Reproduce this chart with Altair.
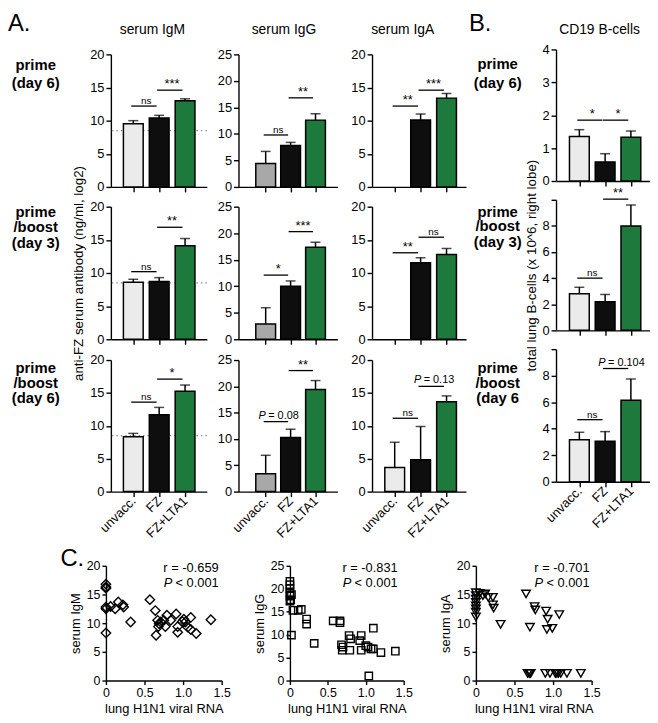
import altair as alt
import pandas as pd

FONT = "Liberation Sans"

# ---------------- data ----------------
GROUPS = ["unvacc.", "FZ", "FZ+LTA1"]

# rows: prime (day 6), prime/boost (day 3), prime/boost (day 6)
IGM_MEAN = [[9.55, 10.4, 13.0], [8.6, 8.7, 14.1], [8.35, 11.7, 15.25]]
IGM_UPPER = [[10.0, 10.8, 13.3], [9.05, 9.3, 15.2], [8.85, 12.8, 16.2]]
IGG_MEAN = [[4.4, 7.8, 12.6], [2.9, 10.0, 17.35], [3.4, 10.3, 19.4]]
IGG_UPPER = [[6.7, 8.4, 13.8], [5.95, 11.0, 18.3], [6.9, 11.85, 21.1]]
IGA_MEAN = [[None, 10.1, 13.4], [None, 11.55, 12.8], [3.65, 4.85, 13.65]]
IGA_UPPER = [[None, 11.0, 14.1], [None, 12.3, 13.7], [7.5, 9.9, 14.55]]
B_MEAN = [[1.35, 0.58, 1.33], [2.8, 2.2, 8.0], [3.17, 3.05, 6.15]]
B_UPPER = [[1.56, 0.83, 1.52], [3.3, 2.75, 9.6], [3.73, 3.78, 7.75]]
DETECTION_LIMIT = 8.5

# significance brackets: (from group, to group, height, label)
IGM_SIG = [[(0, 1, 12.2, "ns"), (1, 2, 14.6, "***")],
           [(0, 1, 10.2, "ns"), (1, 2, 16.9, "**")],
           [(0, 1, 13.6, "ns"), (1, 2, 17.1, "*")]]
IGG_SIG = [[(0, 1, 9.8, "ns"), (1, 2, 16.8, "**")],
           [(0, 1, 12.1, "*"), (1, 2, 20.3, "***")],
           [(0, 1, 13.3, "P = 0.08"), (1, 2, 23.0, "**")]]
IGA_SIG = [[(0, 1, 12.2, "**"), (1, 2, 14.6, "***")],
           [(0, 1, 13.05, "**"), (1, 2, 15.4, "ns")],
           [(0, 1, 11.15, "ns"), (1, 2, 16.0, "P = 0.13")]]
B_SIG = [[(0, 1, 1.85, "*"), (1, 2, 1.85, "*")],
         [(0, 1, 4.0, "ns"), (1, 2, 10.05, "**")],
         [(0, 1, 4.68, "ns"), (1, 2, 8.54, "P = 0.104")]]

A_ROW_LABELS = [["prime", "(day 6)"], ["prime", "/boost", "(day 3)"], ["prime", "/boost", "(day 6)"]]
B_ROW_LABELS = [["prime", "(day 6)"], ["prime", "/boost", "(day 3)"], ["prime", "/boost", "(day 6"]]
COL_TITLES = ["serum IgM", "serum IgG", "serum IgA", "CD19 B-cells"]
A_YTITLE = "anti-FZ serum antibody (ng/ml, log2)"
B_YTITLE = "total lung B-cells (x 10^6, right lobe)"

# Panel C scatter data (lung H1N1 viral RNA vs serum antibody)
SC_IGM_X = [0, 0, 0, 0, 0, 0, 0.06, 0.12, 0.16, 0.22, 0.23, 0.32, 0.57, 0.64, 0.65, 0.67, 0.69,
            0.68, 0.71, 0.75, 0.77, 0.79, 0.84, 0.91, 0.93, 0.93, 0.99, 1.01, 1.03, 1.06, 1.10,
            1.10, 1.17, 1.36]
SC_IGM_Y = [16.8, 16.3, 16.1, 12.8, 12.5, 8.3, 12.9, 12.5, 13.7, 13.2, 12.8, 10.2, 14.1, 12.2,
            7.9, 10.5, 9.9, 9.4, 10.2, 10.5, 9.4, 11.4, 10.5, 11.6, 9.4, 8.4, 10.3, 10.7, 10.2,
            9.3, 11.0, 8.9, 8.2, 10.6]
SC_IGG_X = [0, 0, 0, 0, 0, 0, 0.01, 0.02, 0.04, 0.11, 0.15, 0.22, 0.22, 0.02, 0.32, 0.57, 0.66,
            0.66, 0.68, 0.70, 0.69, 0.78, 0.80, 0.79, 0.92, 0.94, 0.94, 1.00, 1.03, 1.07, 1.10,
            1.10, 1.04, 1.20, 1.39]
SC_IGG_Y = [21.6, 20.9, 20.1, 19.1, 18.4, 17.3, 17.6, 18.7, 15.3, 15.3, 15.5, 13.4, 12.3, 9.9,
            8.1, 13.0, 13.0, 12.6, 7.8, 7.3, 6.6, 9.8, 9.1, 6.6, 8.7, 9.8, 6.6, 7.6, 7.3, 6.9,
            11.4, 6.9, 1.0, 6.1, 6.4]
SC_IGA_X = [0, 0, 0, 0, 0, 0, 0, 0, 0.05, 0.09, 0.12, 0.16, 0.22, 0.22, 0.23, 0.32, 0.65, 0.70,
            0.76, 0.77, 0.91, 0.93, 0.92, 0.99, 1.08, 0.67, 0.69, 0.70, 0.71, 0.90, 0.96, 1.03,
            1.05, 1.07, 1.10, 1.18, 1.36]
SC_IGA_Y = [15.3, 14.8, 14.2, 13.6, 13.0, 12.5, 11.9, 11.1, 15.2, 14.8, 15.1, 14.5, 14.5, 13.2,
            12.6, 9.8, 15.1, 9.3, 12.9, 12.3, 12.1, 10.7, 8.9, 9.1, 11.5, 1.25, 1.25, 1.25, 1.25,
            1.25, 1.25, 1.25, 1.25, 1.25, 1.25, 1.25, 1.25]
SC_YTITLES = ["serum IgM", "serum IgG", "serum IgA"]
SC_R = ["r = -0.659", "r = -0.831", "r = -0.701"]
SC_P = "< 0.001"
SC_XTITLE = "lung H1N1 viral RNA"

# ---------------- styles / layout ----------------
LIGHT = "#ebebeb"
GREY = "#a8a8a8"
BLACK = "#0e0e0e"
GREEN = "#1d7a3c"
SIG_FS = {"ns": 10, "star": 13, "P": 11}
DUMMY = pd.DataFrame({"d": [0]})

COL_W = [104, 97, 32, 100, 35, 95, 91, 95]      # grid column widths
ROW_H = [43, 134, 20, 134, 21, 133, 75, 116]    # grid row heights
A_XDOM = [[0.325, 3.65], [0.107, 3.68], [0.316, 3.56]]
B_XDOM = [0.286, 3.55]
B_CELL_H = [128, 125, 123]                      # B plot bottom inside its row
B_TOP = [-5, -7, -11]                           # B plot top relative to row top
A_LABEL_Y = [[10.5, 29], [5, 20.5, 37], [8, 23, 38]]
B_LABEL_Y = [[10, 29], [5, 20, 36], [8, 23, 38]]


def text_cell(width, height, items=()):
    layers = []
    for (t, x, y, size, weight, align) in items:
        layers.append(
            alt.Chart(DUMMY).mark_text(font=FONT, fontSize=size, fontWeight=weight, align=align,
                                       baseline="middle", color="black")
            .encode(x=alt.value(x), y=alt.value(y), text=alt.value(t)))
    if not layers:
        layers.append(alt.Chart(DUMMY).mark_text().encode(text=alt.value("")))
    return alt.layer(*layers).properties(width=width, height=height)


def bar_panel(means, uppers, sigs, ymax, yticks, xdom, width, height, unv_fill,
              show_x=False, ytitle=None, dotted=False, hide_top=False, top=0):
    df = pd.DataFrame({"pos": [1, 2, 3], "group": GROUPS, "mean": means, "upper": uppers,
                       "fill": [unv_fill, BLACK, GREEN]}).dropna()
    xs = alt.Scale(domain=xdom, nice=False, zero=False)
    ys = alt.Scale(domain=[0, ymax], nice=False, range=[height, top])
    xax = dict(values=[1, 2, 3], tickSize=5, labelFlush=False, labelOverlap=False)
    if show_x:
        expr = ("datum.value == 1 ? '%s' : datum.value == 2 ? '%s' : '%s'" % tuple(GROUPS))
        xax.update(labelExpr=expr, labelAngle=-45, labelAlign="right", labelBaseline="middle",
                   labelFontSize=13, labelPadding=2)
    else:
        xax.update(labels=False)
    yax = dict(values=yticks, tickSize=5, labelFontSize=13, labelPadding=2, labelOverlap=False,
               labelBound=False, titleFontSize=13.5, titlePadding=4)
    if hide_top:
        yax["labelExpr"] = "datum.value == %s ? '' : datum.label" % ymax

    # only the bar layer carries the axes; the others share its scales
    def X(field):
        return alt.X(field, axis=None)

    def Y(field):
        return alt.Y(field, axis=None)

    bars = alt.Chart(df).mark_bar(size=20, stroke="black", strokeWidth=1.5, orient="vertical").encode(
        x=alt.X("pos:Q", scale=xs, axis=alt.Axis(**xax), title=None),
        y=alt.Y("mean:Q", scale=ys, axis=alt.Axis(**yax), title=ytitle, stack=None),
        fill=alt.Fill("fill:N", scale=None))
    err = alt.Chart(df).mark_rule(color="black", strokeWidth=1.5).encode(
        x=X("pos:Q"), y=Y("mean:Q"), y2="upper:Q")
    cap = alt.Chart(df).mark_tick(color="black", thickness=1.5, size=10, orient="horizontal").encode(
        x=X("pos:Q"), y=Y("upper:Q"))

    sdf = pd.DataFrame(sigs, columns=["a", "b", "y", "label"])
    sdf["x1"] = sdf["a"] + 1 - 0.08
    sdf["x2"] = sdf["b"] + 1 - 0.1
    sdf["mid"] = (sdf["a"] + sdf["b"]) / 2 + 1
    sdf["kind"] = ["P" if l.startswith("P") else ("ns" if l == "ns" else "star") for l in sdf["label"]]
    sdf["fs"] = [SIG_FS[k] for k in sdf["kind"]]
    sdf["rest"] = [l[1:].strip() if k == "P" else l for l, k in zip(sdf["label"], sdf["kind"])]
    rule = alt.Chart(sdf).mark_rule(color="black", strokeWidth=1.3).encode(
        x=X("x1:Q"), x2="x2:Q", y=Y("y:Q"))
    txt = alt.Chart(sdf).transform_filter("datum.kind != 'P'").mark_text(
        font=FONT, baseline="alphabetic", dy=-2, color="black").encode(
        x=X("mid:Q"), y=Y("y:Q"), text="label:N", size=alt.Size("fs:Q", scale=None))
    p_it = alt.Chart(sdf).transform_filter("datum.kind == 'P'").mark_text(
        font=FONT, fontStyle="italic", fontSize=11, baseline="alphabetic", dy=-3, dx=-12.5,
        align="right", color="black").encode(
        x=X("mid:Q"), y=Y("y:Q"), text=alt.value("P"))
    p_rest = alt.Chart(sdf).transform_filter("datum.kind == 'P'").mark_text(
        font=FONT, fontSize=11, baseline="alphabetic", dy=-3, dx=-10, align="left",
        color="black").encode(
        x=X("mid:Q"), y=Y("y:Q"), text="rest:N")

    layers = []
    if dotted:  # dotted detection limit drawn underneath the bars
        layers.append(alt.Chart(pd.DataFrame({"lim": [DETECTION_LIMIT]}))
                      .mark_rule(color="#8c8c8c", strokeDash=[1.5, 3], strokeWidth=1.2)
                      .encode(y=Y("lim:Q")))
    layers += [bars, err, cap, rule, txt, p_it, p_rest]
    return (alt.layer(*layers).resolve_axis(x="independent", y="independent")
            .properties(width=width, height=height))


def scatter_panel(xs, ys, shape, size, ymax, yticks, ytitle, r_text, cell_w, x_off, plot_w, rx):
    df = pd.DataFrame({"x": xs, "y": ys})
    pts = alt.Chart(df).mark_point(shape=shape, size=size, filled=False, color="black",
                                   strokeWidth=1.4, opacity=1).encode(
        x=alt.X("x:Q", scale=alt.Scale(domain=[0, 1.5], nice=False, zero=False,
                                       range=[x_off, x_off + plot_w]),
                axis=alt.Axis(values=[0, 0.5, 1.0, 1.5], tickSize=4, labelFontSize=12.5,
                              labelPadding=2, labelFlush=False, labelOverlap=False,
                              titleFontSize=13, titlePadding=4,
                              labelExpr="datum.value == 0 ? '0' : format(datum.value, '.1f')"),
                title=SC_XTITLE),
        y=alt.Y("y:Q", scale=alt.Scale(domain=[0, ymax], nice=False),
                axis=alt.Axis(values=yticks, tickSize=4, labelFontSize=12.5, labelPadding=2,
                              labelOverlap=False, titleFontSize=13, titlePadding=4,
                              offset=-x_off),
                title=ytitle))
    r = alt.Chart(DUMMY).mark_text(font=FONT, fontSize=13, align="right", baseline="middle",
                                   color="black").encode(
        x=alt.value(x_off + rx), y=alt.value(2), text=alt.value(r_text))
    p1 = alt.Chart(DUMMY).mark_text(font=FONT, fontSize=13, fontStyle="italic", align="right",
                                    baseline="middle", color="black").encode(
        x=alt.value(x_off + rx - 47), y=alt.value(17), text=alt.value("P"))
    p2 = alt.Chart(DUMMY).mark_text(font=FONT, fontSize=13, align="right", baseline="middle",
                                    color="black").encode(
        x=alt.value(x_off + rx), y=alt.value(17), text=alt.value(SC_P))
    return alt.layer(pts, r, p1, p2).properties(width=cell_w, height=ROW_H[7])


def a_panel(c, r):
    show_x = (r == 2)
    h = ROW_H[1 + 2 * r]
    if c == 0:
        return bar_panel(IGM_MEAN[r], IGM_UPPER[r], IGM_SIG[r], 20, [0, 5, 10, 15, 20], A_XDOM[0],
                         COL_W[1], h, LIGHT, show_x, A_YTITLE if r == 1 else None, dotted=True)
    if c == 1:
        return bar_panel(IGG_MEAN[r], IGG_UPPER[r], IGG_SIG[r], 25, [0, 5, 10, 15, 20, 25],
                         A_XDOM[1], COL_W[3], h, GREY, show_x)
    return bar_panel(IGA_MEAN[r], IGA_UPPER[r], IGA_SIG[r], 20, [0, 5, 10, 15, 20], A_XDOM[2],
                     COL_W[5], h, LIGHT, show_x)


def b_panel(r):
    if r == 0:
        return bar_panel(B_MEAN[r], B_UPPER[r], B_SIG[r], 4, [0, 1, 2, 3, 4], B_XDOM, COL_W[7],
                         B_CELL_H[r], LIGHT, top=B_TOP[r])
    return bar_panel(B_MEAN[r], B_UPPER[r], B_SIG[r], 10, [0, 2, 4, 6, 8, 10], B_XDOM, COL_W[7],
                     B_CELL_H[r], LIGHT, show_x=(r == 2), ytitle=B_YTITLE if r == 1 else None,
                     hide_top=True, top=B_TOP[r])


def label_items(lines, ys, x):
    return [(t, x, y, 15, "bold", "center") for t, y in zip(lines, ys)]


cells = []
# row 0 : panel letters and column titles
cells += [
    text_cell(COL_W[0], ROW_H[0], [("A.", 0, 12, 24, "normal", "left")]),
    text_cell(COL_W[1], ROW_H[0], [(COL_TITLES[0], 42, 18, 14, "normal", "center")]),
    text_cell(COL_W[2], ROW_H[0]),
    text_cell(COL_W[3], ROW_H[0], [(COL_TITLES[1], 46, 18, 14, "normal", "center")]),
    text_cell(COL_W[4], ROW_H[0]),
    text_cell(COL_W[5], ROW_H[0], [(COL_TITLES[2], 31, 18, 14, "normal", "center")]),
    text_cell(COL_W[6], ROW_H[0], [("B.", 3, 12, 24, "normal", "left")]),
    text_cell(COL_W[7], ROW_H[0], [(COL_TITLES[3], 44, 18, 14, "normal", "center")]),
]
for r in range(3):
    h = ROW_H[1 + 2 * r]
    cells += [
        text_cell(COL_W[0], h, label_items(A_ROW_LABELS[r], A_LABEL_Y[r], 28)),
        a_panel(0, r),
        text_cell(COL_W[2], h),
        a_panel(1, r),
        text_cell(COL_W[4], h),
        a_panel(2, r),
        text_cell(COL_W[6], h, label_items(B_ROW_LABELS[r], B_LABEL_Y[r], 32)),
        b_panel(r),
    ]
    g = ROW_H[2 + 2 * r]
    first = [("C.", 53, 68, 24, "normal", "left")] if r == 2 else []
    cells += [text_cell(COL_W[0], g, first)] + [text_cell(w, g) for w in COL_W[1:]]

# scatter row (panel C)
cells += [
    text_cell(COL_W[0], ROW_H[7]),
    scatter_panel(SC_IGM_X, SC_IGM_Y, "diamond", 90, 20, [0, 5, 10, 15, 20], SC_YTITLES[0],
                  SC_R[0], COL_W[1], -5, 117, 114),
    text_cell(COL_W[2], ROW_H[7]),
    scatter_panel(SC_IGG_X, SC_IGG_Y, "square", 55, 25, [0, 5, 10, 15, 20, 25], SC_YTITLES[1],
                  SC_R[1], COL_W[3], 52, 115, 109),
    text_cell(COL_W[4], ROW_H[7]),
    text_cell(COL_W[5], ROW_H[7]),
    scatter_panel(SC_IGA_X, SC_IGA_Y, "triangle-down", 75, 20, [0, 5, 10, 15, 20],
                  SC_YTITLES[2], SC_R[2], COL_W[6], 10, 117, 115),
    text_cell(COL_W[7], ROW_H[7]),
]

chart = alt.concat(*cells, columns=8, spacing=0, bounds="flush", align="each", padding=0)
chart = chart.configure_view(stroke=None).configure_axis(
    domainColor="black", domainWidth=1.4, tickColor="black", tickWidth=1.4,
    labelColor="black", labelFont=FONT, titleFont=FONT, titleColor="black",
    titleFontWeight="normal", grid=False, labelOverlap=False)

chart.save("out.html", embed_options={"renderer": "svg", "actions": False})
